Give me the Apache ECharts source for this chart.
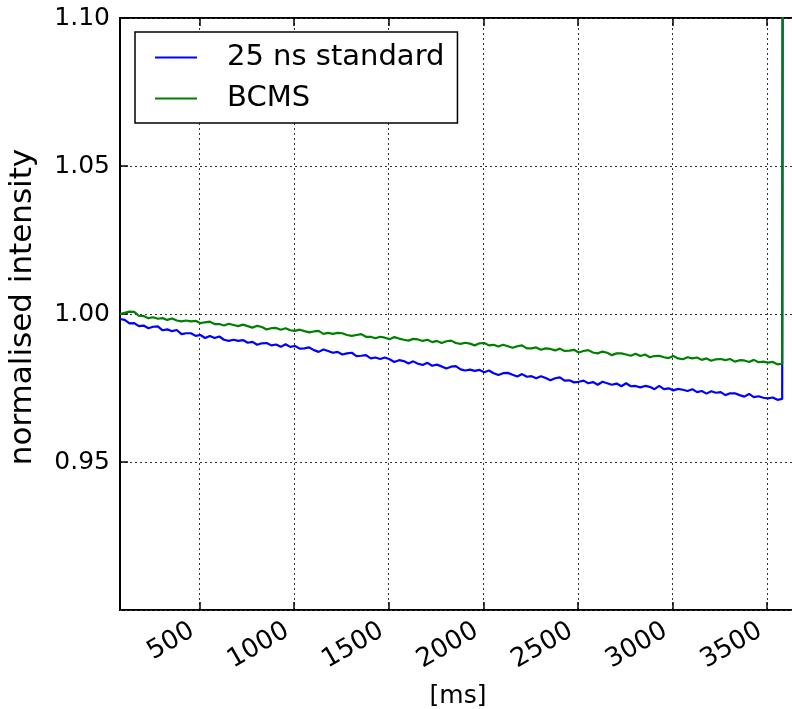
<!DOCTYPE html>
<html>
<head>
<meta charset="utf-8">
<script src="https://cdn.jsdelivr.net/npm/echarts@6/dist/echarts.min.js"></script>
<style>html,body{margin:0;padding:0;background:#fff}#c{width:792px;height:709px}</style>
</head>
<body>
<div id="c"></div>
<script>
var seriesNames = ['25 ns standard', 'BCMS'];
var xTicks = [500, 1000, 1500, 2000, 2500, 3000, 3500];
var timeMs = [80,105,130,155,180,205,230,255,280,305,330,355,380,405,430,455,480,505,530,555,580,605,630,655,680,705,730,755,780,805,830,855,880,905,930,955,980,1005,1030,1055,1080,1105,1130,1155,1180,1205,1230,1255,1280,1305,1330,1355,1380,1405,1430,1455,1480,1505,1530,1555,1580,1605,1630,1655,1680,1705,1730,1755,1780,1805,1830,1855,1880,1905,1930,1955,1980,2005,2030,2055,2080,2105,2130,2155,2180,2205,2230,2255,2280,2305,2330,2355,2380,2405,2430,2455,2480,2505,2530,2555,2580,2605,2630,2655,2680,2705,2730,2755,2780,2805,2830,2855,2880,2905,2930,2955,2980,3005,3030,3055,3080,3105,3130,3155,3180,3205,3230,3255,3280,3305,3330,3355,3380,3405,3430,3455,3480,3505,3530,3555,3580,3584];
var standard25ns = [
0.9983,0.9980,0.9968,
0.9969,0.9959,0.9961,0.9952,0.9957,0.9958,
0.9945,0.9948,0.9942,0.9946,0.9932,0.9935,0.9935,0.9926,
0.9929,0.9919,0.9926,0.9919,0.9924,0.9913,0.9909,0.9913,0.9909,0.9912,
0.9903,0.9906,0.9896,0.9901,0.9902,0.9894,0.9897,0.9889,0.9898,0.9889,
0.9892,0.9883,0.9884,0.9887,0.9878,0.9872,0.9880,0.9875,0.9869,0.9872,
0.9863,0.9867,0.9869,0.9858,0.9859,0.9861,0.9850,0.9853,0.9848,0.9853,
0.9847,0.9838,0.9844,0.9841,0.9833,0.9840,0.9832,0.9828,0.9835,0.9825,
0.9829,0.9823,0.9816,0.9822,0.9824,0.9813,0.9809,0.9812,0.9808,0.9811,
0.9803,0.9809,0.9800,0.9794,0.9800,0.9801,0.9795,0.9789,0.9797,0.9788,
0.9790,0.9783,0.9790,0.9784,0.9776,0.9783,0.9786,0.9775,0.9776,0.9769,
0.9771,0.9775,0.9766,0.9770,0.9761,0.9771,0.9766,0.9761,0.9765,0.9756,
0.9766,0.9756,0.9757,0.9752,0.9757,0.9754,0.9746,0.9757,0.9746,0.9749,
0.9742,0.9747,0.9744,0.9740,0.9746,0.9736,0.9740,0.9731,0.9739,0.9734,
0.9736,0.9726,0.9732,0.9732,0.9726,0.9721,0.9730,0.9719,0.9722,0.9717,
0.9715,0.9718,0.9710,0.9713,
1.2];
var bcms = [
1.0000,1.0004,1.0008,
1.0007,0.9994,0.9993,0.9986,0.9989,0.9984,
0.9986,0.9980,0.9985,0.9978,0.9975,0.9978,0.9975,0.9977,
0.9969,0.9972,0.9974,0.9966,0.9966,0.9961,0.9967,0.9963,0.9959,0.9964,
0.9959,0.9954,0.9960,0.9956,0.9948,0.9952,0.9953,0.9947,0.9952,0.9945,
0.9943,0.9947,0.9942,0.9938,0.9941,0.9943,0.9933,0.9936,0.9933,0.9936,
0.9935,0.9929,0.9926,0.9929,0.9932,0.9923,0.9923,0.9918,0.9923,0.9920,
0.9915,0.9922,0.9917,0.9913,0.9910,0.9916,0.9914,0.9909,0.9913,0.9905,
0.9909,0.9902,0.9908,0.9910,0.9902,0.9899,0.9903,0.9900,0.9894,0.9901,
0.9902,0.9894,0.9896,0.9890,0.9896,0.9891,0.9886,0.9891,0.9894,0.9884,
0.9884,0.9887,0.9879,0.9884,0.9882,0.9877,0.9883,0.9875,0.9876,0.9879,
0.9870,0.9875,0.9878,0.9870,0.9867,0.9873,0.9869,0.9861,0.9867,0.9867,
0.9863,0.9859,0.9866,0.9858,0.9863,0.9854,0.9858,0.9859,0.9854,0.9851,
0.9858,0.9850,0.9847,0.9854,0.9850,0.9853,0.9845,0.9850,0.9842,0.9847,
0.9848,0.9844,0.9848,0.9839,0.9844,0.9843,0.9838,0.9845,0.9837,0.9839,
0.9836,0.9838,0.9830,0.9832,
1.2];

var FONT = 'DejaVu Sans';
var chart = echarts.init(document.getElementById('c'), null, {renderer: 'canvas'});
function pairs(ys) { return timeMs.map(function (x, i) { return [x, ys[i]]; }); }
var gridLine = {show: true, lineStyle: {color: '#333', type: [2, 3], width: 1}};
chart.setOption({
  animation: false,
  backgroundColor: '#fff',
  grid: {left: 120, top: 18, right: -4, bottom: 99, show: true, borderColor: '#000', borderWidth: 2,
    backgroundColor: 'transparent', containLabel: false, outerBoundsMode: 'none'},
  legend: {
    show: true, orient: 'vertical', left: 135, top: 32,
    data: seriesNames,
    backgroundColor: '#fff', borderColor: '#000', borderWidth: 1.5, borderRadius: 0,
    padding: [11, 13, 10, 20], itemGap: 12,
    itemWidth: 42, itemHeight: 2, icon: 'rect',
    textStyle: {fontFamily: FONT, fontSize: 29, color: '#000', padding: [0, 0, 0, 25]}
  },
  xAxis: [{
    type: 'value', min: 80, max: 3653, position: 'bottom',
    name: '[ms]', nameLocation: 'middle', nameGap: 74,
    nameTextStyle: {fontFamily: FONT, fontSize: 25, color: '#000'},
    axisLine: {show: false},
    axisTick: {show: true, inside: true, length: 8, customValues: xTicks, lineStyle: {color: '#000', width: 1.5}},
    axisLabel: {show: true, customValues: xTicks, rotate: 30, margin: 15, fontFamily: FONT, fontSize: 26, color: '#000',
      padding: [0, 8, 0, 0],
      formatter: function (v) { return String(v); }},
    splitLine: gridLine
  }, {
    type: 'value', min: 80, max: 3653, position: 'top',
    axisLine: {show: false},
    axisTick: {show: true, inside: true, length: 8, customValues: xTicks, lineStyle: {color: '#000', width: 1.5}},
    axisLabel: {show: false},
    splitLine: {show: false}
  }],
  yAxis: {
    type: 'value', min: 0.9, max: 1.1, interval: 0.05,
    name: 'normalised intensity', nameLocation: 'middle', nameGap: 82,
    nameTextStyle: {fontFamily: FONT, fontSize: 31, color: '#000', padding: [0, 0, 0, 14]},
    axisLine: {show: false},
    axisTick: {show: true, inside: true, length: 8, lineStyle: {color: '#000', width: 1.5}},
    axisLabel: {show: true, showMinLabel: false, margin: 10, fontFamily: FONT, fontSize: 25, color: '#000',
      formatter: function (v) { return v.toFixed(2); }},
    splitLine: gridLine
  },
  series: [{
    name: seriesNames[0], type: 'line', data: pairs(standard25ns), showSymbol: false, symbol: 'none',
    lineStyle: {color: '#0000ff', width: 2.2}, itemStyle: {color: '#0000ff'}, clip: true
  }, {
    name: seriesNames[1], type: 'line', data: pairs(bcms), showSymbol: false, symbol: 'none',
    lineStyle: {color: '#008000', width: 2.2}, itemStyle: {color: '#008000'}, clip: true
  }]
});
</script>
</body>
</html>
